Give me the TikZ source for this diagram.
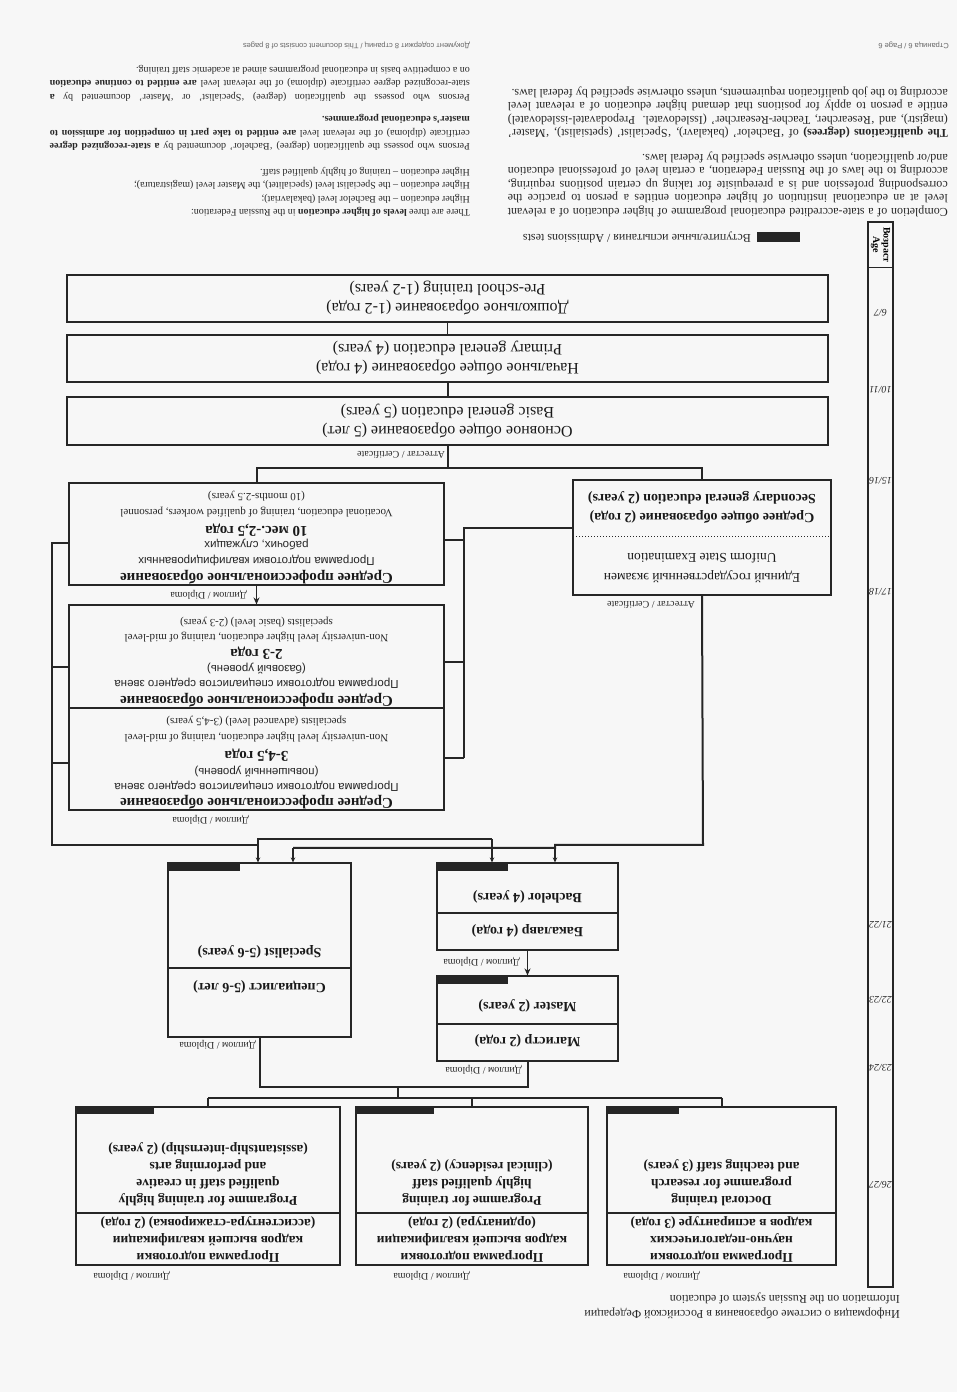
\documentclass[tikz,border=0pt]{standalone}
\usepackage{fontspec}
\setmainfont{Liberation Serif}
\setsansfont{Liberation Sans}
\usetikzlibrary{arrows.meta}
\newcommand{\jl}[2][440pt]{\makebox[#1][s]{#2}}
\tikzset{
  pagebg/.style={fill=black!3, draw=none},
  box/.style={draw=black!85, line width=1.1pt, rectangle, inner sep=0pt},
  boxline/.style={draw=black!85, line width=1.1pt},
  link/.style={draw=black!85, line width=2pt},
  drop/.style={draw=black!85, line width=1.6pt, -{Stealth[length=5pt,width=4.5pt]}},
  thinlink/.style={draw=black!85, line width=1.4pt},
  arr/.style={draw=black!85, line width=1.6pt, -{Stealth[length=7pt,width=6pt]}},
  admbar/.style={fill=black!85},
  lbl/.style={font=\fontsize{10}{11}\selectfont, inner sep=0pt, text=black!85},
  agelbl/.style={font=\itshape\fontsize{10}{12}\selectfont, inner sep=0pt, text=black!85},
  maintext/.style={font=\fontsize{16}{19}\selectfont, align=center, inner sep=0pt, text=black!90},
  doctext/.style={font=\bfseries\fontsize{13.5}{17}\selectfont, align=center, inner sep=0pt, text=black!90},
  hdb/.style={font=\bfseries\fontsize{14}{16}\selectfont, inner sep=0pt, text=black!90},
  secb/.style={font=\bfseries\fontsize{14}{16}\selectfont, inner sep=0pt, text=black!90},
  secr/.style={font=\fontsize{13.5}{16}\selectfont, inner sep=0pt, text=black!90},
  vbold/.style={font=\bfseries\fontsize{15}{17}\selectfont, inner sep=0pt, text=black!90},
  vsans/.style={font=\sffamily\fontsize{11.5}{14}\selectfont, inner sep=0pt, text=black!85},
  veng/.style={font=\fontsize{11}{13}\selectfont, inner sep=0pt, text=black!85},
  hdr/.style={font=\fontsize{12}{14}\selectfont, inner sep=0pt, text=black!85},
  blocka/.style={font=\fontsize{12}{13.5}\selectfont, inner sep=0pt, anchor=north west, align=left, text=black!85},
  blockb/.style={font=\fontsize{10}{13.5}\selectfont, inner sep=0pt, anchor=north west, align=left, text=black!85},
  foot/.style={font=\sffamily\fontsize{7.5}{10}\selectfont, inner sep=0pt, text=black!60},
}
\begin{document}
\begin{tikzpicture}[x=1pt,y=1pt]
\useasboundingbox (0,0) rectangle (957,1392);
\fill[pagebg] (0,0) rectangle (957,1392);
\begin{scope}[rotate around={180:(478.5,696)}, transform shape]

% ---------- header ----------
\node[hdr, anchor=base west] (h1) at (57,1311) {Информация о системе образования в Российской Федерации};
\node[hdr, anchor=base west] (h2) at (57,1296) {Information on the Russian system of education};

% ---------- age column ----------
\node[box, minimum width=25pt, minimum height=1065pt] (agecol) at (76.5,754.5) {};
\draw[boxline] ([yshift=46pt]agecol.south west) -- ([yshift=46pt]agecol.south east);
\node[font=\bfseries\fontsize{10}{10.5}\selectfont, align=center, rotate=90, inner sep=0pt] (agehd) at (76.5,245) {Возраст\\Age};
\node[agelbl] (a1) at (76.5,313) {6/7};
\node[agelbl] (a2) at (76.5,390) {10/11};
\node[agelbl] (a3) at (76.5,481) {15/16};
\node[agelbl] (a4) at (76.5,592) {17/18};
\node[agelbl] (a5) at (76.5,925) {21/22};
\node[agelbl] (a6) at (76.5,1000) {22/23};
\node[agelbl] (a7) at (76.5,1068) {23/24};
\node[agelbl] (a8) at (76.5,1185) {26/27};

% ---------- general education ----------
\node[box, minimum width=761pt, minimum height=47pt] (pre) at (509.5,298.5) {};
\node[maintext] (pret) at (pre.center) {Дошкольное образование (1-2 года)\\Pre-school training (1-2 years)};
\node[box, minimum width=761pt, minimum height=47pt] (prim) at (509.5,358.5) {};
\node[maintext] (primt) at (prim.center) {Начальное общее образование (4 года)\\Primary general education (4 years)};
\node[box, minimum width=761pt, minimum height=48pt] (basic) at (509.5,421) {};
\node[maintext] (basict) at (basic.center) {Основное общее образование (5 лет)\\Basic general education (5 years)};
\draw[thinlink] (pre.north) -- (prim.south);
\draw[link] (prim.north) -- (basic.south);
\coordinate (j0) at (509.5,468);
\draw[link] (basic.north) -- (j0);
\node[lbl, anchor=west] (cert1) at (512,455) {Аттестат / Certificate};

% ---------- secondary general ----------
\node[box, minimum width=258pt, minimum height=115pt] (sec) at (255,537.5) {};
\draw[draw=black!85, line width=1pt, dotted] (sec.west |- 0,537) -- (sec.east |- 0,537);
\node[secb] (sect1) at (255,517) {Среднее общее образование (2 года)};
\node[secb] (sect2) at (255,498) {Secondary general education (2 years)};
\node[secr] (sect3) at (255,577) {Единый государственный экзамен};
\node[secr] (sect4) at (255,558) {Uniform State Examination};
\node[lbl, anchor=west] (cert2) at (262,605) {Аттестат / Certificate};

% ---------- vocational ----------
\node[box, minimum width=375pt, minimum height=102pt] (v1) at (700.5,534) {};
\node[box, minimum width=375pt, minimum height=103pt] (v2) at (700.5,656.5) {};
\node[box, minimum width=375pt, minimum height=102pt] (v3) at (700.5,759) {};

\node[vbold] (v1a) at (700.5,577) {Среднее профессиональное образование};
\node[vsans] (v1b) at (700.5,560) {Программа подготовки квалифицированных};
\node[vsans] (v1c) at (700.5,545) {рабочих, служащих};
\node[vbold] (v1d) at (700.5,530) {10 мес.-2,5 года};
\node[veng] (v1e) at (700.5,512) {Vocational education, training of qualified workers, personnel};
\node[veng] (v1f) at (700.5,496) {(10 months-2.5 years)};

\node[vbold] (v2a) at (700.5,700) {Среднее профессиональное образование};
\node[vsans] (v2b) at (700.5,683) {Программа подготовки специалистов среднего звена};
\node[vsans] (v2c) at (700.5,669) {(базовый уровень)};
\node[vbold] (v2d) at (700.5,653) {2-3 года};
\node[veng] (v2e) at (700.5,637) {Non-university level higher education, training of mid-level};
\node[veng] (v2f) at (700.5,622) {specialists (basic level) (2-3 years)};

\node[vbold] (v3a) at (700.5,802) {Среднее профессиональное образование};
\node[vsans] (v3b) at (700.5,786) {Программа подготовки специалистов среднего звена};
\node[vsans] (v3c) at (700.5,772) {(повышенный уровень)};
\node[vbold] (v3d) at (700.5,755) {3-4,5 года};
\node[veng] (v3e) at (700.5,737) {Non-university level higher education, training of mid-level};
\node[veng] (v3f) at (700.5,721) {specialists (advanced level) (3-4,5 years)};

\draw[link] (sec.south) -- (sec.south |- j0) -- (v1.south |- j0) -- (v1.south);
\draw[arr] (v1.north) -- (v2.south);
\node[lbl, anchor=west] (dip1) at (710,595) {Диплом / Diploma};
\node[lbl, anchor=west] (dip2) at (708,820) {Диплом / Diploma};

% secondary -> vocational
\coordinate (sv0) at (493,528);
\coordinate (sb1) at (493,540);
\coordinate (sb2) at (493,662);
\coordinate (sb3) at (493,758);
\draw[link] (sec.east |- sv0) -- (sv0) -- (sb3);
\draw[link] (sb1) -- (sb1 -| v1.west);
\draw[link] (sb2) -- (sb2 -| v2.west);
\draw[link] (sb3) -- (sb3 -| v3.west);

% ---------- higher education ----------
\node[box, minimum width=181pt, minimum height=87pt] (bach) at (429.5,906.5) {};
\draw[boxline] (bach.west |- 0,913) -- (bach.east |- 0,913);
\node[hdb] (bacht1) at (429.5,931) {Бакалавр (4 года)};
\node[hdb] (bacht2) at (429.5,897) {Bachelor (4 years)};
\fill[admbar] ([xshift=-72pt]bach.south east) rectangle ([yshift=9pt]bach.south east);

\node[box, minimum width=181pt, minimum height=85pt] (mast) at (429.5,1018.5) {};
\draw[boxline] (mast.west |- 0,1024) -- (mast.east |- 0,1024);
\node[hdb] (mastt1) at (429.5,1041) {Магистр (2 года)};
\node[hdb] (mastt2) at (429.5,1006) {Master (2 years)};
\fill[admbar] ([xshift=-72pt]mast.south east) rectangle ([yshift=9pt]mast.south east);

\node[box, minimum width=183pt, minimum height=174pt] (spec) at (697.5,950) {};
\draw[boxline] (spec.west |- 0,968) -- (spec.east |- 0,968);
\node[hdb] (spect1) at (697.5,987) {Специалист (5-6 лет)};
\node[hdb] (spect2) at (697.5,952) {Specialist (5-6 years)};
\fill[admbar] ([xshift=-73pt]spec.south east) rectangle ([yshift=9pt]spec.south east);

\draw[arr] (bach.north) -- (mast.south);
\node[lbl, anchor=west] (dip3) at (437,962) {Диплом / Diploma};

% vocational bus -> specialist / bachelor
\coordinate (vb1) at (905.5,543);
\coordinate (vb2) at (905.5,667);
\coordinate (vb3) at (905.5,763);
\coordinate (vtop) at (905.5,845);
\coordinate (vs) at (699,845);
\coordinate (vs2) at (699,839);
\coordinate (vbch) at (465,839);
\draw[link] (vb1 -| v1.east) -- (vb1) -- (vtop) -- (vs) -- (vs2) -- (vbch);
\draw[link] (vb2 -| v2.east) -- (vb2);
\draw[link] (vb3 -| v3.east) -- (vb3);
\draw[drop] (vs) -- (vs |- spec.south);
\draw[drop] (vbch) -- (vbch |- bach.south);

% secondary -> bachelor / specialist
\coordinate (st) at (254,845);
\coordinate (sbch) at (402,845);
\coordinate (sbch2) at (402,848);
\coordinate (ssp) at (664,848);
\draw[link] (sec.north) -- (st) -- (sbch) -- (sbch2) -- (ssp);
\draw[drop] (sbch) -- (sbch |- bach.south);
\draw[drop] (ssp) -- (ssp |- spec.south);

% ---------- postgraduate ----------
\node[box, minimum width=229pt, minimum height=158pt] (doc) at (235.5,1186) {};
\node[box, minimum width=232pt, minimum height=158pt] (ord) at (485,1186) {};
\node[box, minimum width=264pt, minimum height=158pt] (ass) at (749,1186) {};
\draw[boxline] (doc.west |- 0,1213) -- (doc.east |- 0,1213);
\draw[boxline] (ord.west |- 0,1213) -- (ord.east |- 0,1213);
\draw[boxline] (ass.west |- 0,1213) -- (ass.east |- 0,1213);
\fill[admbar] ([xshift=-73pt]doc.south east) rectangle ([yshift=8pt]doc.south east);
\fill[admbar] ([xshift=-79pt]ord.south east) rectangle ([yshift=8pt]ord.south east);
\fill[admbar] ([xshift=-79pt]ass.south east) rectangle ([yshift=8pt]ass.south east);

\node[doctext] (doct1) at (235.5,1239) {Программа подготовки\\научно-педагогических\\кадров в аспирантуре (3 года)};
\node[doctext, anchor=north] (doct2) at (235.5,1206) {Doctoral training\\programme for research\\and teaching staff (3 years)};
\node[doctext] (ordt1) at (485,1239) {Программа подготовки\\кадров высшей квалификации\\(ординатура) (2 года)};
\node[doctext, anchor=north] (ordt2) at (485,1206) {Programme for training\\highly qualified staff\\(clinical residency) (2 years)};
\node[doctext] (asst1) at (749,1239) {Программа подготовки\\кадров высшей квалификации\\(ассистентура-стажировка) (2 года)};
\node[doctext, anchor=north] (asst2) at (749,1206) {Programme for training highly\\qualified staff in creative\\and performing arts\\(assistantship-internship) (2 years)};

\node[lbl, anchor=west] (dip4) at (257,1276) {Диплом / Diploma};
\node[lbl, anchor=west] (dip5) at (487,1276) {Диплом / Diploma};
\node[lbl, anchor=west] (dip6) at (787,1276) {Диплом / Diploma};
\node[lbl, anchor=west] (dip7) at (701,1045) {Диплом / Diploma};
\node[lbl, anchor=west] (dip8) at (435,1070) {Диплом / Diploma};

\coordinate (jm) at (429.5,1087);
\coordinate (js) at (697.5,1087);
\coordinate (jst) at (559,1087);
\coordinate (jbar) at (559,1098);
\coordinate (bd) at (235.5,1098);
\coordinate (ba) at (749,1098);
\draw[link] (mast.north) -- (jm) -- (js) -- (spec.north);
\draw[link] (jst) -- (jbar);
\draw[link] (bd) -- (ba);
\draw[link] (bd) -- (doc.south);
\draw[link] (jbar -| ord.south) -- (ord.south);
\draw[link] (ba) -- (ass.south);

% ---------- legend ----------
\fill[admbar] (157,232) rectangle (200,242) coordinate (legbar);
\node[font=\fontsize{12}{14}\selectfont, anchor=west, inner sep=0pt, text=black!85] (legtxt) at (206,237) {Вступительные испытания / Admissions tests};

% ---------- text blocks ----------
\node[blocka] (txta) at (9,217) {%
\jl{Completion of a state-accredited educational programme of higher education of a relevant}\\
\jl{level at an educational institution of higher education entitles a person to practice the}\\
\jl{corresponding profession and is a prerequisite for taking up certain positions requiring,}\\
\jl{according to the laws of the Russian Federation, a certain level of professional education}\\
and/or qualification, unless otherwise specified by federal laws.\\[11pt]
\jl{\textbf{The qualifications (degrees)} of `Bachelor' (bakalavr), `Specialist' (spetsialist), `Master'}\\
\jl{(magistr), and `Researcher, Teacher-Researcher' (Issledovatel. Prepodavatel-issledovatel)}\\
\jl{entitle a person to apply for positions that demand higher education of a relevant level}\\
according to the job qualification requirements, unless otherwise specified by federal laws.};

\node[blockb] (txtb) at (487,217) {%
There are three \textbf{levels of higher education} in the Russian Federation:\\
Higher education – the Bachelor level (bakalavriat);\\
Higher education – the Specialist level (specialitet), the Master level (magistratura);\\
Higher education – training of highly qualified staff.\\[12pt]
\jl[420pt]{Persons who possess the qualification (degree) `Bachelor' documented by \textbf{a state-recognized degree}}\\
\jl[420pt]{certificate (diploma) of the relevant level \textbf{are entitled to take part in competition for admission to}}\\
\textbf{master's educational programmes.}\\[9pt]
\jl[420pt]{Persons who possess the qualification (degree) `Specialist' or `Master' documented by \textbf{a}}\\
\jl[420pt]{state-recognized degree certificate (diploma) of the relevant level \textbf{are entitled to continue education}}\\
on a competitive basis in educational programmes aimed at academic staff training.};

\node[foot, anchor=base west] (f1) at (8,44) {Страница 6 / Page 6};
\node[foot, anchor=base west] (f2) at (487,44) {Документ содержит 8 страниц / This document consists of 8 pages};

\end{scope}
\end{tikzpicture}
\end{document}
